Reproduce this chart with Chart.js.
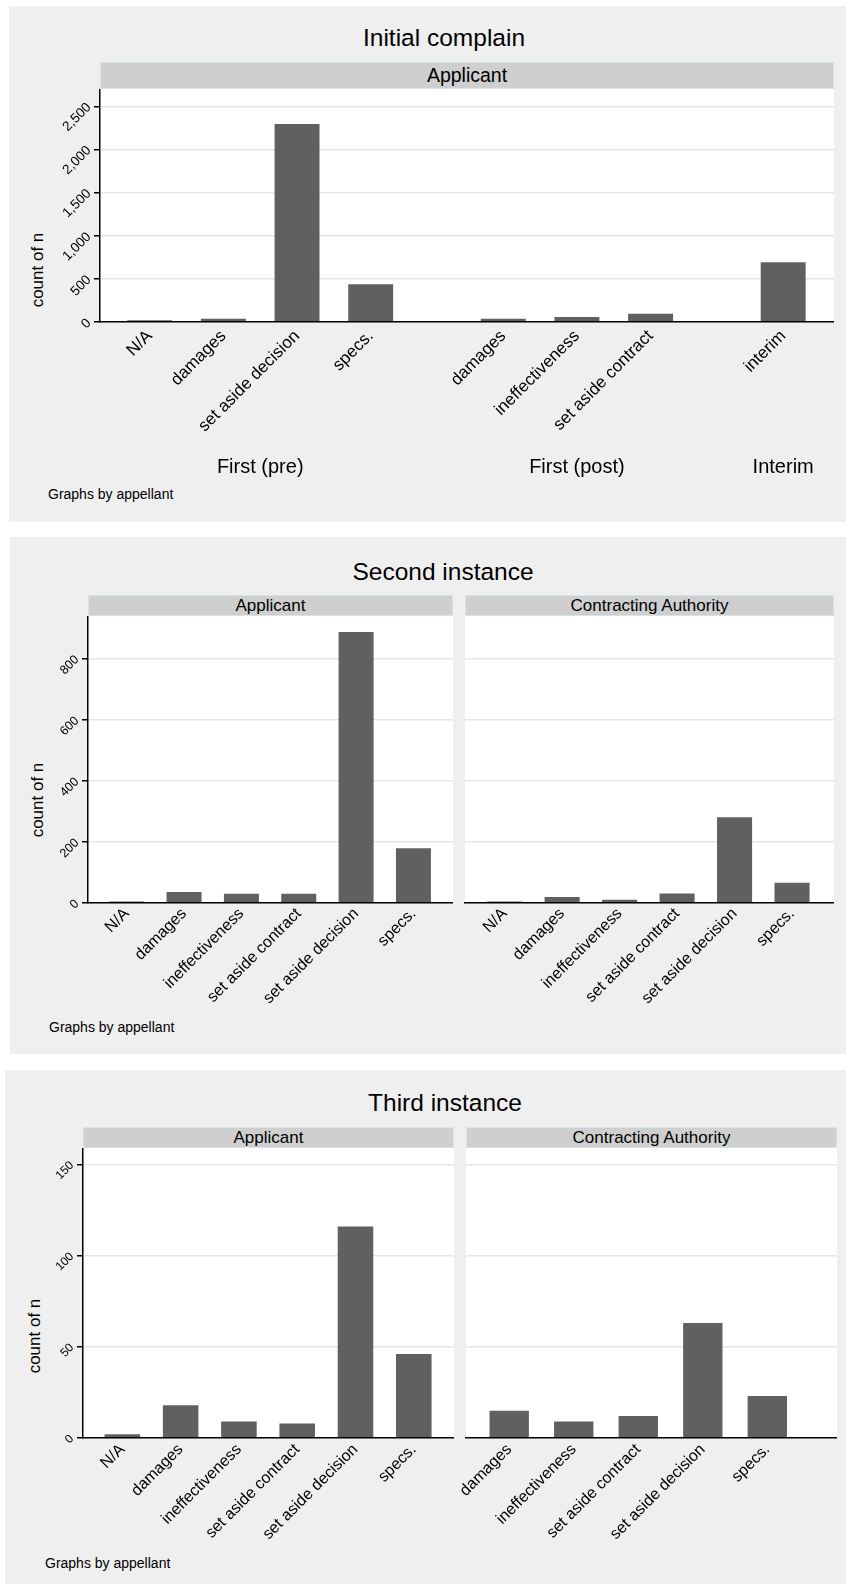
<!DOCTYPE html>
<html>
<head>
<meta charset="utf-8">
<script src="https://cdn.jsdelivr.net/npm/chart.js@4.4.1/dist/chart.umd.min.js"></script>
<style>
    body { margin: 0; background: #fff; width: 846px; height: 1584px; position: relative; overflow: hidden;
           font-family: "Liberation Sans", Arial, Helvetica, sans-serif; color: #000; }
    .panel { position: absolute; background: #efefef; }
    .title { position: absolute; transform: translate(-50%, -50%); font-size: 24.5px; line-height: 1; white-space: nowrap; }
    .strip { position: absolute; background: #cfcfcf; border: 1px solid #d5e3ea; box-sizing: border-box;
             display: flex; align-items: center; justify-content: center; white-space: nowrap; }
    .ytitle { position: absolute; transform: translate(-50%, -50%) rotate(-90deg); font-size: 17px; line-height: 1; white-space: nowrap; }
    .note { position: absolute; transform: translateY(-50%); font-size: 14px; line-height: 1; white-space: nowrap; }
    canvas { position: absolute; }
</style>
</head>
<body>

<!-- Initial complain -->
<div class="panel" style="left:9px;top:6px;width:837px;height:516px"></div>
<div class="title" style="left:444px;top:38px">Initial complain</div>
<div class="strip" style="left:100px;top:62px;width:734px;height:27px;font-size:19.5px">Applicant</div>
<div class="ytitle" style="left:37px;top:270px">count of n</div>
<div class="note" style="left:48px;top:494px">Graphs by appellant</div>
<canvas id="initial" width="804" height="398" style="left:30px;top:89px"></canvas>

<!-- Second instance -->
<div class="panel" style="left:10px;top:537px;width:836px;height:517px"></div>
<div class="title" style="left:443px;top:572px">Second instance</div>
<div class="strip" style="left:88px;top:595px;width:365px;height:21px;font-size:17px">Applicant</div>
<div class="strip" style="left:465px;top:595px;width:369px;height:21px;font-size:17px">Contracting Authority</div>
<div class="ytitle" style="left:37px;top:800px">count of n</div>
<div class="note" style="left:49px;top:1027px">Graphs by appellant</div>
<canvas id="secondA" width="435" height="407" style="left:18px;top:616px"></canvas>
<canvas id="secondB" width="399" height="407" style="left:435px;top:616px"></canvas>

<!-- Third instance -->
<div class="panel" style="left:5px;top:1070px;width:841px;height:514px"></div>
<div class="title" style="left:445px;top:1103px">Third instance</div>
<div class="strip" style="left:83px;top:1127px;width:371px;height:21px;font-size:17px">Applicant</div>
<div class="strip" style="left:466px;top:1127px;width:371px;height:21px;font-size:17px">Contracting Authority</div>
<div class="ytitle" style="left:34px;top:1336px">count of n</div>
<div class="note" style="left:45px;top:1563px">Graphs by appellant</div>
<canvas id="thirdA" width="441" height="410" style="left:13px;top:1148px"></canvas>
<canvas id="thirdB" width="401" height="410" style="left:436px;top:1148px"></canvas>

<script>
// ---- data ----
// Initial complain, Applicant
const initialLabels = ['N/A', 'damages', 'set aside decision', 'specs.', 'damages', 'ineffectiveness', 'set aside contract', 'interim'];
const initialGroups = ['First (pre)', 'First (post)', 'Interim'];
const initialGroupOf = [0, 0, 0, 0, 1, 1, 1, 2];
const initialCounts = [20, 39, 2293, 437, 39, 58, 97, 693];
const initialYTicks = [0, 500, 1000, 1500, 2000, 2500];
const initialYMax = 2700;

// Second instance
const secondLabels = ['N/A', 'damages', 'ineffectiveness', 'set aside contract', 'set aside decision', 'specs.'];
const secondApplicant = [5, 36, 30, 30, 888, 179];
const secondAuthority = [5, 20, 11, 31, 281, 66];
const secondYTicks = [0, 200, 400, 600, 800];
const secondYMax = 940;

// Third instance
const thirdApplicantLabels = ['N/A', 'damages', 'ineffectiveness', 'set aside contract', 'set aside decision', 'specs.'];
const thirdApplicant = [2, 18, 9, 8, 116, 46];
const thirdAuthorityLabels = ['damages', 'ineffectiveness', 'set aside contract', 'set aside decision', 'specs.'];
const thirdAuthority = [15, 9, 12, 63, 23];
const thirdYTicks = [0, 50, 100, 150];
const thirdYMax = 159;

// ---- style ----
const FONT = '"Liberation Sans", Arial, Helvetica, sans-serif';
const BAR = '#606060';
const GRID = '#e6e6e6';
const GROUP_GAP = 0.8;   // extra space between over() groups, in bar slots

Chart.defaults.font.family = FONT;
Chart.defaults.color = '#000';

// white plot region
const plotBackground = {
    id: 'plotBackground',
    beforeDraw(chart) {
        const a = chart.chartArea;
        chart.ctx.save();
        chart.ctx.fillStyle = '#fff';
        chart.ctx.fillRect(a.left, a.top, a.right - a.left, a.bottom - a.top);
        chart.ctx.restore();
    }
};

// group captions under the rotated category labels
const groupCaptions = {
    id: 'groupCaptions',
    afterDraw(chart, args, opts) {
        if (!opts.groups) return;
        const xs = chart.scales.x;
        const ctx = chart.ctx;
        ctx.save();
        ctx.font = opts.size + 'px ' + FONT;
        ctx.fillStyle = '#000';
        ctx.textAlign = 'center';
        ctx.textBaseline = 'middle';
        opts.groups.forEach((name, g) => {
            const members = opts.positions.filter((p, i) => opts.groupOf[i] === g);
            const mid = (Math.min(...members) + Math.max(...members)) / 2;
            ctx.fillText(name, xs.getPixelForValue(mid), chart.chartArea.bottom + opts.offset);
        });
        ctx.restore();
    }
};

function drawBars(id, cfg) {
    const groupOf = cfg.groupOf || cfg.values.map(() => 0);
    const positions = groupOf.map((g, i) => i + g * GROUP_GAP);
    const edgeLeft = cfg.edgeLeft ?? 0.675;
    const edgeRight = cfg.edgeRight ?? 0.69;

    return new Chart(document.getElementById(id), {
        type: 'bar',
        data: {
            datasets: [{
                data: cfg.values.map((v, i) => ({ x: positions[i], y: v })),
                backgroundColor: BAR,
                borderWidth: 0,
                barPercentage: 0.61,
                categoryPercentage: 1
            }]
        },
        options: {
            responsive: false,
            animation: false,
            devicePixelRatio: 1,
            layout: { padding: { left: cfg.padLeft || 0, top: 0, right: 0, bottom: 0 } },
            plugins: {
                legend: { display: false },
                tooltip: { enabled: false },
                groupCaptions: cfg.groups ? {
                    groups: cfg.groups, groupOf: groupOf, positions: positions, size: 20, offset: 145
                } : {}
            },
            scales: {
                x: {
                    type: 'linear',
                    offset: false,
                    bounds: 'data',
                    min: -edgeLeft,
                    max: positions[positions.length - 1] + edgeRight,
                    afterBuildTicks: s => { s.ticks = positions.map(v => ({ value: v })); },
                    afterFit: s => { s.height = cfg.xHeight; s.paddingLeft = 0; s.paddingRight = 0; },
                    grid: { display: false, drawTicks: false },
                    border: { display: true, color: '#000', width: 1.5, z: 1 },
                    ticks: {
                        autoSkip: false,
                        minRotation: 45,
                        maxRotation: 45,
                        padding: cfg.xPad,
                        font: { size: cfg.xFont },
                        callback: (v, i) => cfg.labels[i]
                    }
                },
                y: {
                    min: 0,
                    max: cfg.yMax,
                    afterBuildTicks: s => { s.ticks = cfg.yTicks.map(v => ({ value: v })); },
                    afterFit: s => { s.width = cfg.showY ? 70 : 0; s.paddingTop = 0; s.paddingBottom = 0; },
                    grid: {
                        color: GRID, lineWidth: 1.5,
                        drawTicks: cfg.showY, tickLength: 6, tickColor: '#000', tickWidth: 1.5
                    },
                    border: { display: cfg.showY, color: '#000', width: 1.5 },
                    ticks: {
                        display: cfg.showY,
                        minRotation: 45,
                        maxRotation: 45,
                        padding: 5,
                        labelOffset: -1,
                        font: { size: cfg.yFont },
                        callback: v => v.toLocaleString('en-US')
                    }
                }
            }
        },
        plugins: [plotBackground, groupCaptions]
    });
}

drawBars('initial', {
    labels: initialLabels, values: initialCounts, groupOf: initialGroupOf, groups: initialGroups,
    yTicks: initialYTicks, yMax: initialYMax, showY: true,
    xFont: 17, yFont: 13.5, xPad: 4.2, xHeight: 165
});

drawBars('secondA', {
    labels: secondLabels, values: secondApplicant,
    yTicks: secondYTicks, yMax: secondYMax, showY: true,
    xFont: 16, yFont: 12.5, xPad: 1.4, xHeight: 120
});
drawBars('secondB', {
    labels: secondLabels, values: secondAuthority,
    yTicks: secondYTicks, yMax: secondYMax, showY: false, padLeft: 30,
    xFont: 16, yFont: 12.5, xPad: 1.4, xHeight: 120, edgeLeft: 0.69, edgeRight: 0.73
});

drawBars('thirdA', {
    labels: thirdApplicantLabels, values: thirdApplicant,
    yTicks: thirdYTicks, yMax: thirdYMax, showY: true,
    xFont: 16, yFont: 12, xPad: 2.2, xHeight: 120
});
drawBars('thirdB', {
    labels: thirdAuthorityLabels, values: thirdAuthority,
    yTicks: thirdYTicks, yMax: thirdYMax, showY: false, padLeft: 30,
    xFont: 16, yFont: 12, xPad: 2.2, xHeight: 120, edgeLeft: 0.67, edgeRight: 1.08
});
</script>
</body>
</html>
